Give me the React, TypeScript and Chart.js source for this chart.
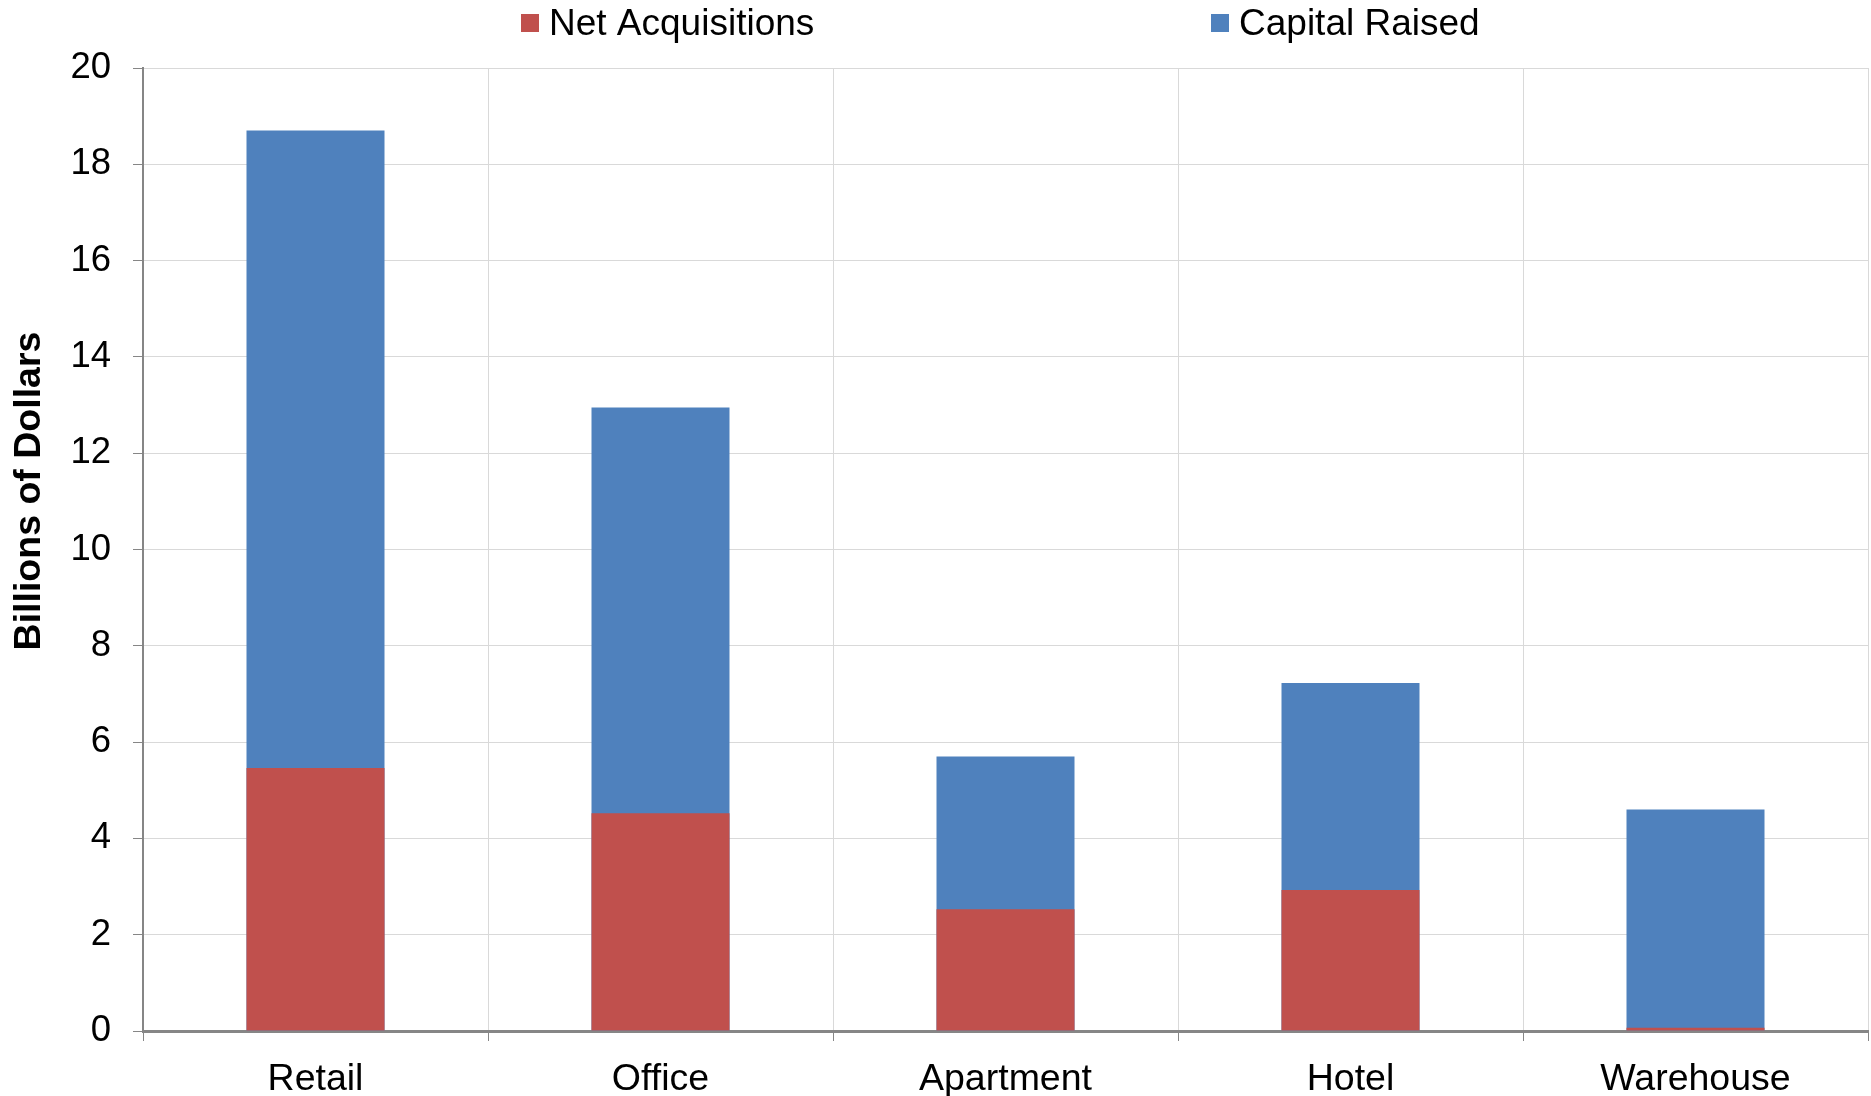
import React, { useEffect, useRef } from "react";
import { Chart, registerables } from "chart.js";

Chart.register(...registerables);

const categories = ["Retail", "Office", "Apartment", "Hotel", "Warehouse"];
const netAcquisitions = [5.46, 4.52, 2.53, 2.93, 0.07];
const capitalRaised = [18.7, 12.95, 5.7, 7.23, 4.6];
const yTicks = [0, 2, 4, 6, 8, 10, 12, 14, 16, 18, 20];
const yTitle = "Billions of Dollars";

const FONT = "'Liberation Sans', Arial, sans-serif";
const RED = "#C0504D";
const BLUE = "#4F81BD";
const GRID = "#D9D9D9";
const AXIS = "#868686";

const decorPlugin = {
  id: "decor",
  afterDraw(chart: any) {
    const ctx = chart.ctx;
    const items = chart.data.datasets.map((d: any) => ({ label: d.label, color: d.backgroundColor }));
    const starts = [521, 1211];
    ctx.save();
    ctx.font = `37px ${FONT}`;
    ctx.textBaseline = "middle";
    ctx.textAlign = "left";
    items.forEach((it: any, i: number) => {
      const x = starts[i];
      ctx.fillStyle = it.color;
      ctx.fillRect(x, 14, 18, 18);
      ctx.fillStyle = "#000";
      ctx.fillText(it.label, x + 28, 25);
    });
    // y-axis title
    ctx.translate(30, 491);
    ctx.rotate(-Math.PI / 2);
    ctx.font = `bold 37.5px ${FONT}`;
    ctx.textAlign = "center";
    ctx.textBaseline = "middle";
    ctx.fillStyle = "#000";
    ctx.fillText(yTitle, 0, 0);
    ctx.restore();
  },
};

export default function App() {
  const ref = useRef<HTMLCanvasElement | null>(null);
  useEffect(() => {
    if (!ref.current) return;
    const chart = new Chart(ref.current, {
      type: "bar",
      data: {
        labels: categories,
        datasets: [
          { label: "Net Acquisitions", data: netAcquisitions, backgroundColor: RED, borderWidth: 0 },
          { label: "Capital Raised", data: capitalRaised, backgroundColor: BLUE, borderWidth: 0 },
        ],
      },
      options: {
        responsive: false,
        animation: false,
        maintainAspectRatio: false,
        categoryPercentage: 0.8,
        barPercentage: 0.5,
        layout: { padding: { top: 68, right: 3, left: 0, bottom: 0 } },
        plugins: { legend: { display: false }, tooltip: { enabled: false } },
        scales: {
          x: {
            stacked: true,
            offset: true,
            grid: { color: GRID, lineWidth: 1, offset: true, tickColor: AXIS, tickLength: 10, drawOnChartArea: true },
            border: { color: AXIS, width: 3 },
            ticks: { color: "#000", font: { family: FONT, size: 37.5 }, padding: 16 },
            afterFit: (s: any) => { s.height = 65; },
          },
          y: {
            stacked: false,
            min: 0,
            max: 20,
            afterBuildTicks: (s: any) => { s.ticks = yTicks.map((v) => ({ value: v })); },
            grid: { color: GRID, lineWidth: 1, tickColor: AXIS, tickLength: 10 },
            border: { color: AXIS, width: 2 },
            ticks: { color: "#000", font: { family: FONT, size: 36.5 }, padding: 22 },
            title: { display: false, text: yTitle },
            afterFit: (s: any) => { s.width = 143; },
          },
        },
      },
      plugins: [decorPlugin],
    });
    return () => chart.destroy();
  }, []);
  return (
    <div style={{ position: "fixed", left: 0, top: 0, width: 1871, height: 1096, background: "#fff" }}>
      <canvas ref={ref} width={1871} height={1096} style={{ width: 1871, height: 1096, display: "block" }} />
    </div>
  );
}
